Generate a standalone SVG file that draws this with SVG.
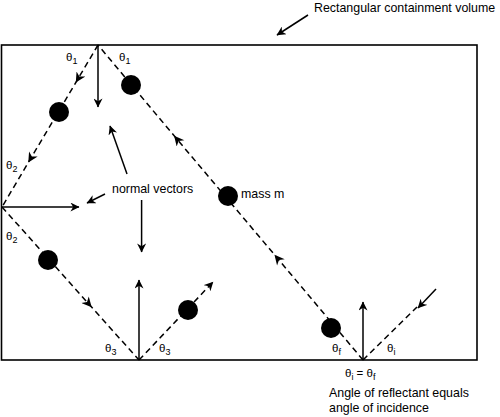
<svg xmlns="http://www.w3.org/2000/svg" width="500" height="417" viewBox="0 0 500 417">
<style>
.t{font-family:"Liberation Sans",Arial,sans-serif;font-size:12.4px;fill:#000}
.th{font-family:"Liberation Sans",Arial,sans-serif;font-size:11.5px;fill:#000}
.sub{font-size:9px}
.dash{fill:none;stroke:#000;stroke-width:1.5;stroke-dasharray:6,4}
.sol{fill:none;stroke:#000;stroke-width:1.5}
.ball{fill:#000}
</style>
<defs>
<marker id="ah" viewBox="0 0 10 10" refX="9.5" refY="5" markerWidth="10" markerHeight="9" markerUnits="userSpaceOnUse" orient="auto">
<path d="M0,0 L10,5 L0,10 L3,5 z" fill="#000"/>
</marker>
<marker id="am" viewBox="0 0 10 10" refX="7" refY="5" markerWidth="11" markerHeight="10" markerUnits="userSpaceOnUse" orient="auto">
<path d="M0,0 L10,5 L0,10 L3,5 z" fill="#000"/>
</marker>
</defs>
<g id="container">
<rect x="1.5" y="45" width="475.5" height="315" fill="none" stroke="#000" stroke-width="1.6"/>
</g>
<g id="connectors">
<path class="dash" d="M98,45 L77.3,80 L29.8,160 L2,207" marker-mid="url(#am)"/>
<path class="dash" d="M2,207 L89.7,305 L139,360" marker-mid="url(#am)"/>
<path class="dash" d="M139,360 L213,282" marker-end="url(#ah)"/>
<path class="dash" d="M363,360 L276.4,257 L176,138 L98,45" marker-mid="url(#am)"/>
<path class="dash" d="M363,360 L417,307"/>
<path class="sol" d="M98,45 L98,107" marker-end="url(#ah)"/>
<path class="sol" d="M2,207 L79,207" marker-end="url(#ah)"/>
<path class="sol" d="M139,360 L139,280" marker-end="url(#ah)"/>
<path class="sol" d="M363,360 L363,302" marker-end="url(#ah)"/>
<path class="sol" d="M308,15 L277,35" marker-end="url(#ah)"/>
<path class="sol" d="M127,174 L110,126" marker-end="url(#ah)"/>
<path class="sol" d="M105,194 L87,203" marker-end="url(#ah)"/>
<path class="sol" d="M141.6,200 L141.6,252" marker-end="url(#ah)"/>
<path class="sol" d="M436,289 L418,308" marker-end="url(#ah)"/>
</g>
<g id="balls">
<circle class="ball" cx="131" cy="85" r="10"/>
<circle class="ball" cx="59" cy="112" r="10"/>
<circle class="ball" cx="48" cy="260" r="10"/>
<circle class="ball" cx="188" cy="310" r="10"/>
<circle class="ball" cx="228" cy="196" r="10"/>
<circle class="ball" cx="331" cy="328" r="10"/>
</g>
<g id="labels">
<text class="t" x="314" y="12">Rectangular containment volume</text>
<text class="t" x="112" y="193">normal vectors</text>
<text class="t" x="241" y="198">mass m</text>
<text class="t" x="329" y="397">Angle of reflectant equals</text>
<text class="t" x="329" y="412">angle of incidence</text>
<text class="th" x="66" y="61">θ<tspan class="sub" dy="3">1</tspan></text>
<text class="th" x="119" y="61">θ<tspan class="sub" dy="3">1</tspan></text>
<text class="th" x="6" y="169">θ<tspan class="sub" dy="3">2</tspan></text>
<text class="th" x="6" y="240">θ<tspan class="sub" dy="3">2</tspan></text>
<text class="th" x="105" y="352">θ<tspan class="sub" dy="3">3</tspan></text>
<text class="th" x="159" y="352">θ<tspan class="sub" dy="3">3</tspan></text>
<text class="th" x="332" y="352">θ<tspan class="sub" dy="3">f</tspan></text>
<text class="th" x="387" y="352">θ<tspan class="sub" dy="3">i</tspan></text>
<text class="th" x="345" y="377">θ<tspan class="sub" dy="3">i</tspan><tspan dy="-3"> = </tspan>θ<tspan class="sub" dy="3">f</tspan></text>
</g>
</svg>
